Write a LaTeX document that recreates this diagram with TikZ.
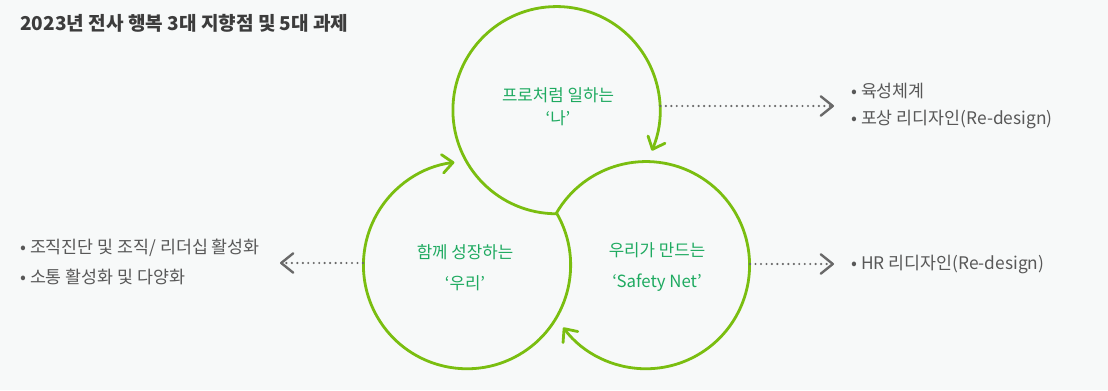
\documentclass[tikz,border=0pt]{standalone}
\usepackage{fontspec}
\setmainfont{Noto Sans CJK KR}
\usetikzlibrary{arrows.meta}
\definecolor{bgpaper}{RGB}{247,249,249}
\definecolor{ringgreen}{RGB}{122,190,16}
\definecolor{txtgreen}{RGB}{30,170,96}
\definecolor{titlegray}{RGB}{60,60,60}
\definecolor{listgray}{RGB}{88,88,88}
\definecolor{dotgray}{RGB}{105,105,105}

\begin{document}
\begin{tikzpicture}[x=.75pt,y=.75pt,
  ring/.style={ringgreen,line width=2.1pt,-{Straight Barb[length=7.9pt,width=13.8pt,line width=2.1pt,round]}},
  hub/.style={circle,minimum size=155.4pt,inner sep=0pt},
  lbl/.style={txtgreen,align=center,inner sep=0pt},
  lst/.style={listgray,align=left,anchor=west,inner sep=0pt,font=\fontsize{13}{21}\selectfont},
  dotline/.style={dotgray,line width=1.8pt,line cap=round,dash pattern=on 0pt off 4.1pt,-{Straight Barb[length=9pt,width=14.5pt,line width=1.8pt,round]}}]
\fill[bgpaper] (0,0) rectangle (1108,390);
\node[anchor=west,inner sep=0pt,titlegray,font=\fontsize{14.3}{16}\selectfont\bfseries] (ttl) at (20,367) {2023년 전사 행복 3대 지향점 및 5대 과제};
% three rings meeting in one point
\node[hub] (na) at (556.5,280.1) {};
\node[hub] (uri) at (466.8,124.7) {};
\node[hub] (net) at (646.2,124.7) {};
\draw[ring] (na.south) arc[start angle=270,end angle=-23,radius=103.6];
\draw[ring] (net.150) arc[start angle=150,end angle=-143,radius=103.6];
\draw[ring] (uri.30) arc[start angle=30,end angle=-263,radius=103.6];
\node[lbl,font=\fontsize{12.6}{17.25}\selectfont] (nalbl) at (558,283.5) {프로처럼 일하는\\‘나’};
\node[lbl,font=\fontsize{12.6}{23.25}\selectfont] (urilbl) at (465,122.5) {함께 성장하는\\‘우리’};
\node[lbl,font=\fontsize{12.6}{23.25}\selectfont] (netlbl) at (657,122.5) {우리가 만드는\\‘Safety Net’};
% task lists
\node[lst] (growth) at (851,284) {• 육성체계\\• 포상 리디자인(Re-design)};
\node[lst] (hrlist) at (851,126) {• HR 리디자인(Re-design)};
\node[lst,font=\fontsize{13}{22.5}\selectfont] (orglist) at (20,128) {• 조직진단 및 조직/ 리더십 활성화\\• 소통 활성화 및 다양화};
\coordinate (tipgr) at (834,284);
\coordinate (tiphr) at (834,126);
\coordinate (tiporg) at (280,127);
\draw[dotline] (na.east |- tipgr) -- (tipgr);
\draw[dotline] (net.east |- tiphr) -- (tiphr);
\draw[dotline] (uri.west |- tiporg) -- (tiporg);
\end{tikzpicture}
\end{document}
